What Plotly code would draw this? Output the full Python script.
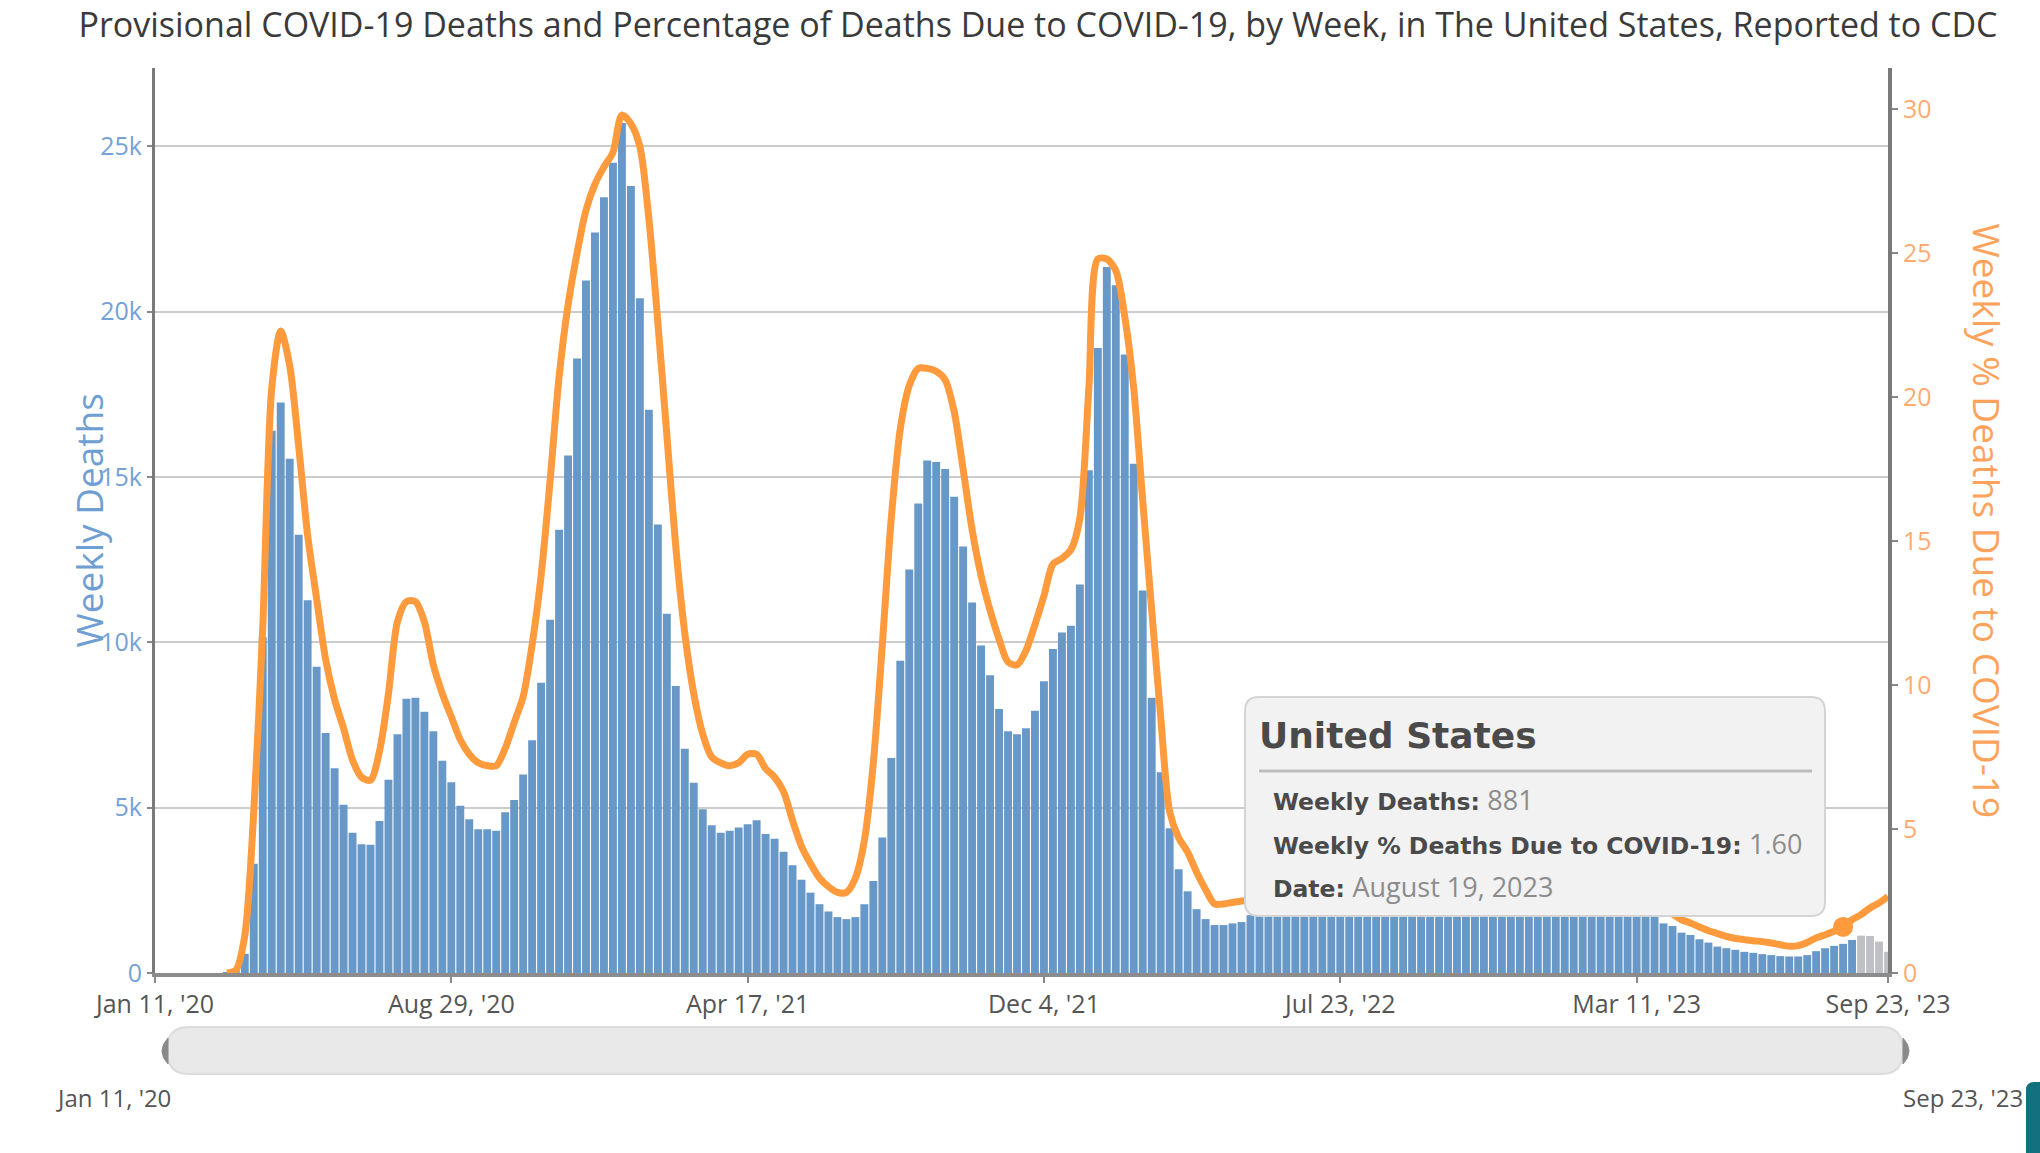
import pandas as pd
import plotly.graph_objects as go

# ---------------- data ----------------
start_week = "2020-01-11"
n_weeks = 194
week_dates = pd.date_range(start_week, periods=n_weeks, freq="7D")

weekly_deaths = [
    0, 0, 0, 0, 0, 0, 0, 0, 5, 60,
    580, 3300, 10150, 16400, 17250, 15550, 13250, 11270, 9260, 7260,
    6190, 5090, 4240, 3890, 3880, 4600, 5840, 7220, 8290, 8320,
    7900, 7310, 6420, 5770, 5060, 4650, 4350, 4350, 4300, 4860,
    5230, 6000, 7040, 8780, 10680, 13400, 15650, 18580, 20940, 22390,
    23460, 24500, 25700, 23800, 20400, 17030, 13560, 10860, 8680, 6780,
    5750, 4950, 4470, 4240, 4300, 4400, 4500, 4620, 4200, 4060,
    3670, 3260, 2820, 2430, 2080, 1860, 1690, 1630, 1690, 2080,
    2780, 4100, 6500, 9440, 12200, 14200, 15500, 15450, 15240, 14400,
    12900, 11200, 9900, 9000, 7980, 7310, 7220, 7400, 7930, 8820,
    9800, 10300, 10500, 11750, 15200, 18900, 21350, 20800, 18700, 15400,
    11570, 8320, 6070, 4380, 3140, 2470, 1930, 1630, 1450, 1450,
    1500, 1540, 1750, 1800, 1850, 1900, 2000, 2100, 2200, 2350,
    2500, 2650, 2750, 2800, 2800, 2750, 2700, 2650, 2550, 2450,
    2400, 2300, 2250, 2200, 2200, 2250, 2300, 2350, 2400, 2500,
    2700, 3000, 3300, 3500, 3700, 3900, 4000, 3800, 3500, 3200,
    2900, 2700, 2500, 2300, 2150, 2000, 1850, 1750, 1500, 1420,
    1220, 1150, 1020, 920, 800, 750, 700, 640, 610, 570,
    540, 510, 500, 500, 540, 660, 750, 820, 881, 1000,
    1130, 1120, 950, 640,
]

pct_covid = [
    None, None, None, None, None, None, None, None, 0.0, 0.1,
    1.3, 5.6, 12.0, 20.3, 22.3, 21.1, 18.3, 15.2, 13.0, 10.9,
    9.5, 8.5, 7.4, 6.8, 6.7, 7.7, 9.7, 12.2, 12.9, 12.9,
    12.2, 10.7, 9.7, 8.9, 8.1, 7.6, 7.3, 7.2, 7.2, 7.8,
    8.7, 9.6, 11.4, 13.8, 17.1, 20.7, 23.2, 25.0, 26.5, 27.4,
    28.0, 28.5, 29.8, 29.5, 28.7, 26.2, 22.6, 18.7, 14.8, 11.8,
    9.7, 8.3, 7.5, 7.3, 7.2, 7.3, 7.6, 7.6, 7.1, 6.8,
    6.3, 5.3, 4.4, 3.8, 3.3, 3.0, 2.8, 2.8, 3.3, 4.6,
    7.3, 11.4, 15.8, 18.9, 20.4, 21.0, 21.0, 20.9, 20.6, 19.5,
    17.5, 15.4, 13.8, 12.6, 11.6, 10.8, 10.7, 11.2, 12.1, 13.1,
    14.2, 14.4, 14.7, 15.8, 20.3, 24.8, 24.8, 24.4, 22.8, 20.3,
    16.4, 12.6, 8.9, 5.6, 4.7, 4.2, 3.5, 2.9, 2.4, 2.4,
    2.45, 2.5, 2.55, 2.7, 2.85, 3.0, 3.2, 3.4, 3.6, 3.8,
    4.1, 4.3, 4.5, 4.6, 4.6, 4.5, 4.4, 4.2, 4.0, 3.9,
    3.8, 3.6, 3.5, 3.4, 3.3, 3.3, 3.3, 3.4, 3.5, 3.6,
    3.9, 4.3, 4.6, 4.9, 5.0, 5.1, 5.2, 5.0, 4.7, 4.4,
    4.1, 3.8, 3.5, 3.3, 3.1, 2.9, 2.7, 2.5, 2.3, 2.05,
    1.85, 1.74, 1.6, 1.47, 1.37, 1.27, 1.2, 1.16, 1.12, 1.09,
    1.04, 0.98, 0.93, 0.95, 1.06, 1.22, 1.33, 1.45, 1.60, 1.85,
    2.03, 2.26, 2.43, 2.66,
]

n_incomplete = 4  # last weeks shown in grey (incomplete reporting)

x_tick_dates = ["2020-01-11", "2020-08-29", "2021-04-17", "2021-12-04",
                "2022-07-23", "2023-03-11", "2023-09-23"]
x_tick_labels = ["Jan 11, '20", "Aug 29, '20", "Apr 17, '21", "Dec 4, '21",
                 "Jul 23, '22", "Mar 11, '23", "Sep 23, '23"]
left_tick_vals = [0, 5000, 10000, 15000, 20000, 25000]
left_tick_text = ["0", "5k", "10k", "15k", "20k", "25k"]
right_tick_vals = [0, 5, 10, 15, 20, 25, 30]

hover_index = 188
hover_state = "United States"
hover_date_text = "August 19, 2023"

title_text = ("Provisional COVID-19 Deaths and Percentage of Deaths Due to COVID-19, "
              "by Week, in The United States, Reported to CDC")

# ---------------- layout geometry (pixels) ----------------
W, H = 2040, 1153
PL, PR, PT, PB = 155, 1888, 68, 973
FONT = "Open Sans"
TIP_FONT = "DejaVu Sans"

def px(x):
    return (x - PL) / (PR - PL)

def py(y):
    return (PB - y) / (PB - PT)

BLUE = "#6798c8"
GREY_BAR = "#bfc0c6"
ORANGE = "#ff9a3d"

bar_colors = [BLUE] * (n_weeks - n_incomplete) + [GREY_BAR] * n_incomplete

fig = go.Figure()
fig.add_trace(go.Bar(
    x=week_dates, y=weekly_deaths, marker=dict(color=bar_colors, line=dict(width=0)),
    name="Weekly Deaths", hoverinfo="skip",
))
fig.add_trace(go.Scatter(
    x=week_dates, y=pct_covid, yaxis="y2", mode="lines",
    line=dict(color=ORANGE, width=7, shape="spline", smoothing=0.8),
    name="Weekly % Deaths Due to COVID-19", hoverinfo="skip", connectgaps=False,
))
fig.add_trace(go.Scatter(
    x=[week_dates[hover_index]], y=[pct_covid[hover_index]], yaxis="y2", mode="markers",
    marker=dict(color=ORANGE, size=20), hoverinfo="skip", showlegend=False,
))

y_max_left = (PB - PT) / 33.07 * 1000
y_max_right = (PB - PT) / 28.79

shapes = []

def rounded_rect(x0, y0, x1, y1, r):
    rx, ry = r / (PR - PL), r / (PB - PT)
    X0, X1, Y0, Y1 = px(x0), px(x1), py(y1), py(y0)  # Y0 bottom, Y1 top
    return (f"M {X0+rx},{Y1} L {X1-rx},{Y1} Q {X1},{Y1} {X1},{Y1-ry} "
            f"L {X1},{Y0+ry} Q {X1},{Y0} {X1-rx},{Y0} L {X0+rx},{Y0} "
            f"Q {X0},{Y0} {X0},{Y0+ry} L {X0},{Y1-ry} Q {X0},{Y1} {X0+rx},{Y1} Z")

# tooltip box
shapes.append(dict(type="path", xref="paper", yref="paper", layer="above",
                   path=rounded_rect(1245, 697, 1825, 916, 14),
                   fillcolor="#f2f2f2", line=dict(color="#d4d4d4", width=2)))
shapes.append(dict(type="line", xref="paper", yref="paper", layer="above",
                   x0=px(1259), x1=px(1812), y0=py(771), y1=py(771),
                   line=dict(color="#bdbdbd", width=3)))

# range slider look-alike
def pill(x0, y0, x1, y1):
    r = (y1 - y0) / 2
    rx = r * 0.9 / (PR - PL)
    X0, X1, Yb, Yt, Ym = px(x0), px(x1), py(y1), py(y0), py((y0 + y1) / 2)
    return (f"M {X0+rx},{Yt} L {X1-rx},{Yt} Q {X1},{Yt} {X1},{Ym} Q {X1},{Yb} {X1-rx},{Yb} "
            f"L {X0+rx},{Yb} Q {X0},{Yb} {X0},{Ym} Q {X0},{Yt} {X0+rx},{Yt} Z")

shapes.append(dict(type="path", xref="paper", yref="paper", layer="above",
                   path=pill(167, 1027, 1903, 1074), fillcolor="#e9e9e9",
                   line=dict(color="#dcdcdc", width=2)))
# slider handles
for hx0, hx1, side in [(156, 168, "L"), (1903, 1915, "R")]:
    if side == "L":
        p = (f"M {px(hx1)},{py(1038)} Q {px(hx0)},{py(1051)} {px(hx1)},{py(1064)} Z")
    else:
        p = (f"M {px(hx0)},{py(1038)} Q {px(hx1)},{py(1051)} {px(hx0)},{py(1064)} Z")
    shapes.append(dict(type="path", xref="paper", yref="paper", layer="above",
                       path=p, fillcolor="#8a8a8a", line=dict(color="#8a8a8a", width=1)))
# teal page element at bottom-right corner
shapes.append(dict(type="path", xref="paper", yref="paper", layer="above",
                   path=rounded_rect(2026, 1082, 2052, 1160, 8),
                   fillcolor="#13707f", line=dict(width=0)))

annotations = []
annotations.append(dict(xref="paper", yref="paper", x=px(88), y=0.5, xanchor="center",
                        yanchor="middle", text="Weekly Deaths", textangle=-90, showarrow=False,
                        font=dict(family=FONT, size=37, color="#6f9fd2")))
annotations.append(dict(xref="paper", yref="paper", x=px(1987), y=0.5, xanchor="center",
                        yanchor="middle", text="Weekly % Deaths Due to COVID-19", textangle=90,
                        showarrow=False, font=dict(family=FONT, size=37, color="#ffa35c")))
# tooltip texts
annotations.append(dict(xref="paper", yref="paper", x=px(1257), y=py(735), xanchor="left",
                        yanchor="middle", showarrow=False, text=f"<b>{hover_state}</b>",
                        font=dict(family=TIP_FONT, size=36, color="#4a4a4a")))
tooltip_lines = [
    ("Weekly Deaths:", f"{weekly_deaths[hover_index]}", 799),
    ("Weekly % Deaths Due to COVID-19:", f"{pct_covid[hover_index]:.2f}", 843),
    ("Date:", hover_date_text, 886),
]
for lab, val, yy in tooltip_lines:
    annotations.append(dict(
        xref="paper", yref="paper", x=px(1271), y=py(yy), xanchor="left",
        yanchor="middle", showarrow=False,
        text=(f"<b>{lab}</b> <span style='color:#8c8c8c;font-family:Open Sans;"
              f"font-size:27px'>{val}</span>"),
        font=dict(family=TIP_FONT, size=23.5, color="#4a4a4a")))
# slider labels
annotations.append(dict(xref="paper", yref="paper", x=px(113), y=py(1097), xanchor="center",
                        yanchor="middle", showarrow=False, text=x_tick_labels[0],
                        font=dict(family=FONT, size=24, color="#555")))
annotations.append(dict(xref="paper", yref="paper", x=px(1963), y=py(1097), xanchor="center",
                        yanchor="middle", showarrow=False, text=x_tick_labels[-1],
                        font=dict(family=FONT, size=24, color="#555")))

fig.update_layout(
    width=W, height=H,
    margin=dict(l=PL, r=W - PR, t=PT, b=H - PB, pad=0),
    paper_bgcolor="white", plot_bgcolor="white",
    showlegend=False, bargap=0.12,
    title=dict(text=title_text, x=1038 / W, xanchor="center", y=1 - 25 / H, yanchor="middle",
               font=dict(family=FONT, size=34, color="#3a3a3a")),
    xaxis=dict(type="date", range=[x_tick_dates[0], x_tick_dates[-1]],
               tickmode="array", tickvals=x_tick_dates, ticktext=x_tick_labels,
               ticks="outside", ticklen=6, tickwidth=2, tickcolor="#888",
               showline=True, linecolor="#8c8c8c", linewidth=4, showgrid=False,
               tickfont=dict(family=FONT, size=25, color="#555"), zeroline=False),
    yaxis=dict(range=[0, y_max_left], tickmode="array", tickvals=left_tick_vals,
               ticktext=left_tick_text, ticks="outside", ticklen=5, tickwidth=2, tickcolor="#888",
               showline=True, linecolor="#7a7a7a", linewidth=3, showgrid=True,
               gridcolor="#cccccc", gridwidth=2, zeroline=False,
               tickfont=dict(family=FONT, size=25, color="#74a2d6")),
    yaxis2=dict(range=[0, y_max_right], overlaying="y", side="right", tickmode="array",
                tickvals=right_tick_vals, ticks="outside", ticklen=6, tickwidth=2,
                tickcolor="#888", showline=True, linecolor="#7a7a7a", linewidth=4,
                showgrid=False, zeroline=False,
                tickfont=dict(family=FONT, size=25, color="#ffab70")),
    shapes=shapes, annotations=annotations,
)

fig.write_html("out.html", config={"displayModeBar": False},
               post_script="document.body.style.margin='0';document.body.style.overflow='hidden';")
